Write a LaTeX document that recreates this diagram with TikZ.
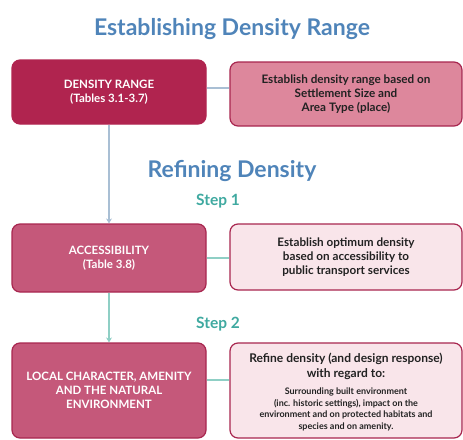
\documentclass[tikz,border=0pt]{standalone}
\usepackage{fontspec}
\setmainfont{Lato}
\usetikzlibrary{arrows.meta}
\definecolor{titleblue}{HTML}{4F84B9}
\definecolor{stepteal}{HTML}{3FA9A0}
\definecolor{crimson}{HTML}{B0244F}
\definecolor{crimsonlight}{HTML}{DD879C}
\definecolor{rosemid}{HTML}{C5587A}
\definecolor{rosepale}{HTML}{F9E5EA}
\definecolor{edgedark}{HTML}{A8264F}
\definecolor{linkblue}{HTML}{A9BFD4}
\definecolor{linkteal}{HTML}{8FCFC5}
\definecolor{textdark}{HTML}{222222}
\tikzset{
  leftbox/.style={draw=edgedark, line width=1.2pt, rounded corners=8pt, minimum width=194pt, inner sep=0pt, text=white, align=center, font=\bfseries\fontsize{11.5}{14}\selectfont},
  rightbox/.style={draw=edgedark, line width=1.2pt, rounded corners=8pt, minimum width=232pt, inner sep=0pt, text=textdark, align=center, font=\bfseries\fontsize{11.7}{13.8}\selectfont},
  boxtext/.style={inner sep=0pt, text=textdark, align=center},
  heading/.style={anchor=base, text=titleblue, font=\bfseries\fontsize{23}{26}\selectfont},
  steplabel/.style={anchor=base, text=stepteal, font=\bfseries\fontsize{15.5}{18}\selectfont},
  linkone/.style={draw=linkblue, line width=1.6pt},
  linktwo/.style={draw=linkteal, line width=1.6pt},
}
\begin{document}
\begin{tikzpicture}[x=1pt, y=-1pt]
\useasboundingbox (0,0) rectangle (463,439);
\node[heading] (t1) at (232,35.5) {Establishing Density Range};
\node[leftbox, fill=crimson, draw=crimson, minimum height=64pt] (b1l) at (109,92) {DENSITY RANGE\\(Tables 3.1-3.7)};
\node[rightbox, fill=crimsonlight, minimum height=64pt] (b1r) at (346,94) {Establish density range based on\\Settlement Size and\\Area Type (place)};
\node[heading] (t2) at (232,177) {Refining Density};
\node[steplabel] (s1) at (218,205) {Step 1};
\node[leftbox, fill=rosemid, minimum height=68pt] (b2l) at (109,258) {ACCESSIBILITY\\(Table 3.8)};
\node[rightbox, fill=rosepale, minimum height=66pt] (b2r) at (346,257) {Establish optimum density\\based on accessibility to\\public transport services};
\node[steplabel] (s2) at (218,328) {Step 2};
\node[leftbox, fill=rosemid, minimum height=95pt] (b3l) at (109,390.5) {LOCAL CHARACTER, AMENITY\\AND THE NATURAL\\ENVIRONMENT};
\node[rightbox, fill=rosepale, minimum height=95pt] (b3r) at (346,390.5) {};
\node[boxtext, font=\bfseries\fontsize{12}{15}\selectfont] (b3rhead) at (346,366) {Refine density (and design response)\\with regard to:};
\node[boxtext, font=\bfseries\fontsize{9}{11.4}\selectfont] (b3rbody) at (346,409.5) {Surrounding built environment\\(inc. historic settings), impact on the\\environment and on protected habitats and\\species and on amenity.};
\draw[linkone] (b1l.east |- 0,88) -- (b1r.west |- 0,88);
\draw[linkone, -{Stealth[length=5pt,width=6pt]}] (b1l.south) -- (b2l.north);
\draw[linktwo] (b2l.east) -- (b2r.west |- b2l.east);
\draw[linktwo, -{Stealth[length=5pt,width=6pt]}] (b2l.south) -- (b3l.north);
\draw[linktwo] (b3l.east |- 0,380) -- (b3r.west |- 0,380);
\end{tikzpicture}
\end{document}
